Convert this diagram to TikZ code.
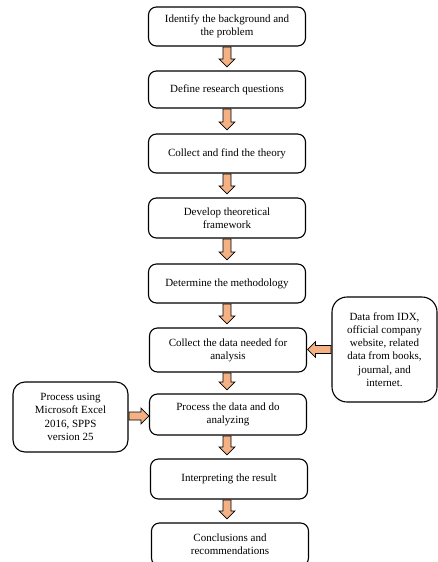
\documentclass[tikz,border=0pt]{standalone}
\usepackage{fontspec}
\setmainfont{Liberation Serif}
\usetikzlibrary{shapes.arrows,calc}
\definecolor{arroworange}{HTML}{F4B183}
\tikzset{
  mainbox/.style={draw=black, line width=1.1pt, rounded corners=8pt, fill=white,
    minimum width=157pt, align=center, inner sep=2pt,
    font=\fontsize{11}{13.3}\selectfont},
  sidebox/.style={draw=black, line width=1.1pt, align=center, inner sep=2pt,
    font=\fontsize{11}{13.3}\selectfont},
  blockarrow/.style={single arrow, draw=black, line width=0.8pt, fill=arroworange,
    inner xsep=0pt, inner ysep=3.6pt, single arrow head extend=3.8pt,
    single arrow head indent=0pt, anchor=tail}
}
\begin{document}
\begin{tikzpicture}[x=1pt,y=1pt]
\useasboundingbox (0,0) rectangle (438,-562);
\node[mainbox, minimum height=39pt] (b1) at (227,-26.5) {Identify the background and\\the problem};
\node[mainbox, minimum height=37pt] (b2) at (227,-89.5) {Define research questions};
\node[mainbox, minimum height=39pt] (b3) at (227,-153.5) {Collect and find the theory};
\node[mainbox, minimum height=40pt] (b4) at (227,-218) {Develop theoretical\\framework};
\node[mainbox, minimum height=39pt] (b5) at (227,-283.5) {Determine the methodology};
\node[mainbox, minimum height=44pt] (b6) at (228,-350) {Collect the data needed for\\analysis};
\node[mainbox, minimum height=41pt] (b7) at (228,-414.5) {Process the data and do\\analyzing};
\node[mainbox, minimum height=40pt] (b8) at (229,-479) {Interpreting the result};
\node[mainbox, minimum height=43pt] (b9) at (230,-544.5) {Conclusions and\\recommendations};
\node[sidebox, rounded corners=15pt, minimum width=105pt, minimum height=105pt] (rb) at (384.5,-349.5)
  {Data from IDX,\\official company\\website, related\\data from books,\\journal, and\\internet.};
\node[sidebox, rounded corners=12pt, minimum width=115pt, minimum height=70pt] (lb) at (70.5,-417)
  {Process using\\Microsoft Excel\\2016, SPPS\\version 25};
\foreach \a/\b in {b1/b2,b2/b3,b3/b4,b4/b5,b5/b6,b6/b7,b7/b8,b8/b9}{
  \path let \p1=(\a.south), \p2=(\b.north) in
    node[blockarrow, rotate=-90, minimum height={\y1-\y2-4pt}] at (227,\y1) {};
}
\path let \p1=(rb.west), \p2=(b6.east) in
  node[blockarrow, rotate=180, minimum height={\x1-\x2-1pt}] at (\p1) {};
\path let \p1=(lb.east), \p2=(b7.west) in
  node[blockarrow, minimum height={\x2-\x1-0.5pt}] at (\x1,-416) {};
\end{tikzpicture}
\end{document}
